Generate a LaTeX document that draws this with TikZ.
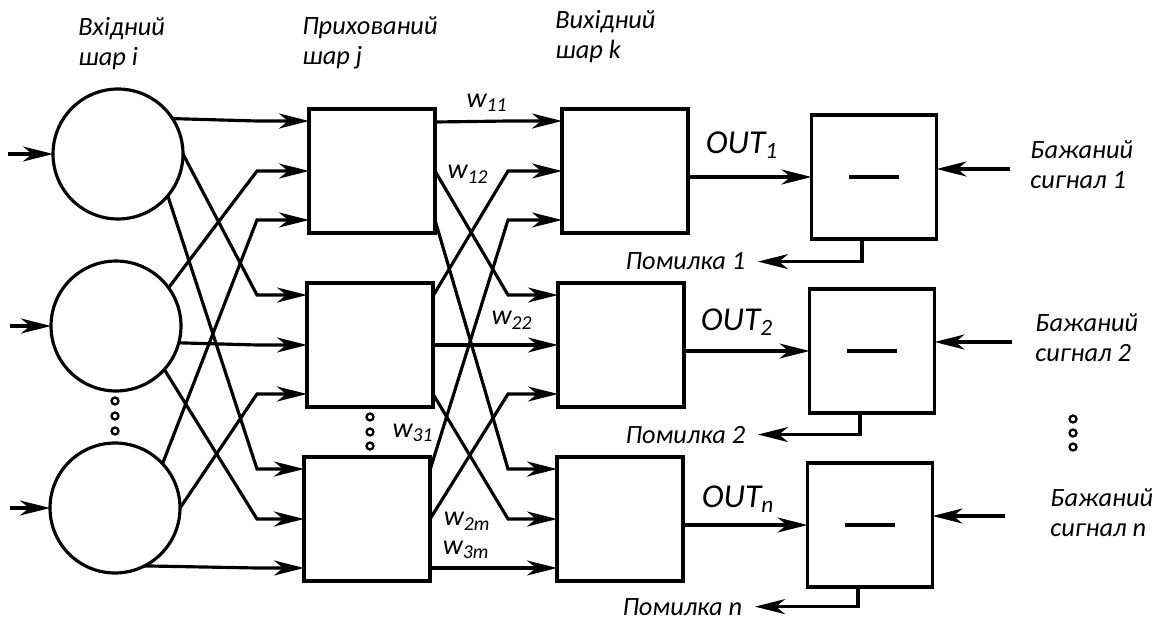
\documentclass[tikz,border=0pt]{standalone}
\usepackage{fontspec}
\setmainfont{Carlito}
\usetikzlibrary{arrows.meta,positioning}
\tikzset{
  neiron/.style={circle,draw,line width=1.8pt,minimum size=2.6cm,
    inner sep=0pt,outer sep=0pt},
  blok/.style={rectangle,draw,line width=1.8pt,minimum width=2.52cm,
    minimum height=2.48cm,inner sep=0pt,outer sep=0pt},
  potik/.style={-{Stealth[length=6mm,width=3mm,inset=1.8mm]},line width=1.8pt},
  mitka/.style={font=\fontsize{15}{17}\selectfont\itshape,align=left,inner sep=0pt},
  pomylka/.style={font=\fontsize{15}{17}\selectfont\itshape,inner ysep=0pt,inner xsep=0.25cm},
  vaha/.style={font=\fontsize{16}{18}\selectfont\itshape,inner sep=0pt},
  vykhid/.style={font=\fontsize{19}{21}\selectfont\itshape,inner sep=0pt},
  krapka/.style={line width=1.3pt}
}

\begin{document}
\begin{tikzpicture}[x=0.02cm,y=-0.02cm]
\useasboundingbox (0,0) rectangle (1168,621);

% 1. Шари: вхідний, прихований, вихідний
\node[neiron] (in1) at (118,154) {};
\node[neiron] (in2) at (116,326) {};
\node[neiron] (in3) at (115,508) {};

\node[blok] (h1) at (372,171) {};
\node[blok] (h2) at (370,345) {};
\node[blok] (h3) at (367,519) {};

\node[blok] (o1) at (625,171) {};
\node[blok] (o2) at (621,345) {};
\node[blok] (o3) at (620,519) {};

% блоки віднімання
\node[blok,minimum width=2.5cm] (s1) at (874,177) {\rule{1cm}{1.8pt}};
\node[blok,minimum width=2.5cm] (s2) at (872,351) {\rule{1cm}{1.8pt}};
\node[blok,minimum width=2.5cm] (s3) at (870,525) {\rule{1cm}{1.8pt}};

% входи і виходи блоків
\foreach \n in {1,2,3} {
  \coordinate (h\n-1) at ([yshift=1.0cm]h\n.west);
  \coordinate (h\n-2) at (h\n.west);
  \coordinate (h\n-3) at ([yshift=-0.98cm]h\n.west);
  \coordinate (hr\n-1) at ([yshift=0.98cm]h\n.east);
  \coordinate (hr\n-2) at (h\n.east);
  \coordinate (hr\n-3) at ([yshift=-0.98cm]h\n.east);
  \coordinate (o\n-1) at ([yshift=1.0cm]o\n.west);
  \coordinate (o\n-2) at (o\n.west);
  \coordinate (o\n-3) at ([yshift=-0.98cm]o\n.west);
}
\coordinate (zlamA) at (257,0);
\coordinate (zlamB) at (508,0);

% 2. Зв'язки між шарами
\coordinate (x1) at (8,154);
\coordinate (x2) at (10,326);
\coordinate (x3) at (10,508);
\foreach \i in {1,2,3}
  \draw[potik] (x\i) -- (in\i.west);

\foreach \i/\a/\j in {1/33/1, 1/0/2, 1/-40/3, 2/36/1, 2/-15/2, 2/-42/3,
                      3/43/1, 3/0/2, 3/-63/3}
  \draw[potik] (in\i.\a) -- (zlamA |- h\j-\i) -- (h\j-\i);

\foreach \j in {1,2,3}
  \foreach \k in {1,2,3}
    \draw[potik] (hr\j-\k) -- (zlamB |- o\k-\j) -- (o\k-\j);

% крапки
\foreach \y in {401,416,431} \draw[krapka] (115,\y) circle[radius=0.07cm];
\foreach \y in {417,432,446} \draw[krapka] (370,\y) circle[radius=0.07cm];
\foreach \y in {419,433,447} \draw[krapka] (1073,\y) circle[radius=0.07cm];

% ваги
\node[vaha] (w11) at (487,103) {w\textsubscript{11}};
\node[vaha] (w12) at (468,174) {w\textsubscript{12}};
\node[vaha] (w22) at (512,320) {w\textsubscript{22}};
\node[vaha] (w31) at (413,433) {w\textsubscript{31}};
\node[vaha] (w2m) at (467,521) {w\textsubscript{2m}};
\node[vaha] (w3m) at (466,550) {w\textsubscript{3m}};

% 3. Виходи, бажані сигнали і помилки
\foreach \n in {1,2,3}
  \draw[potik] (o\n.east |- s\n.west) -- (s\n.west);
\node[vykhid] (out1) at (742,145) {OUT\textsubscript{1}};
\node[vykhid] (out2) at (737,322) {OUT\textsubscript{2}};
\node[vykhid] (out3) at (738,499) {OUT\textsubscript{n}};

\coordinate (b1) at (1010,169);
\coordinate (b2) at (1012,342);
\coordinate (b3) at (1005,516);
\foreach \n in {1,2,3}
  \draw[potik] (b\n) -- (b\n -| s\n.east);

\node[pomylka,anchor=base east] (p1) at (758,270) {Помилка 1};
\node[pomylka,anchor=base east] (p2) at (758,443) {Помилка 2};
\node[pomylka,anchor=base east] (p3) at (755,615) {Помилка n};
\foreach \n in {1,2,3}
  \draw[potik] ([xshift=-0.24cm]s\n.south) |- (p\n.east);

% підписи
\node[mitka,anchor=north west] (vkh) at (78,17) {Вхідний\\шар і};
\node[mitka,anchor=north west] (pryh) at (302,16) {Прихований\\шар j};
\node[mitka,anchor=north west] (vyh) at (555,10) {Вихідний\\шар k};
\node[mitka,anchor=north west] (bazh1) at (1030,140) {Бажаний\\сигнал 1};
\node[mitka,anchor=north west] (bazh2) at (1035,313) {Бажаний\\сигнал 2};
\node[mitka,anchor=north west] (bazh3) at (1050,488) {Бажаний\\сигнал n};

\end{tikzpicture}
\end{document}
